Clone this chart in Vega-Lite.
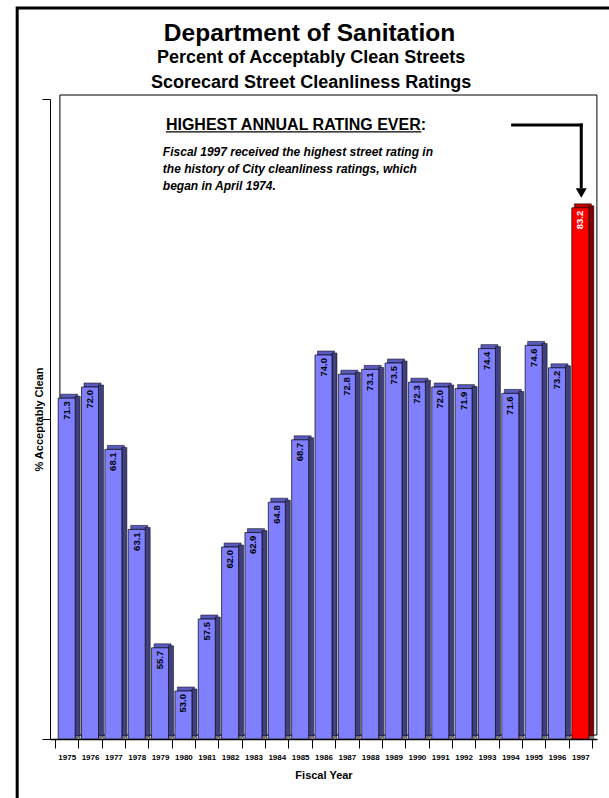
{
  "$schema": "https://vega.github.io/schema/vega-lite/v6.json",
  "width": 547,
  "height": 640,
  "autosize": {"type": "none"},
  "padding": {"left": 50, "top": 99, "right": 12, "bottom": 59},
  "background": "white",
  "config": {
    "view": {"stroke": null},
    "font": "Liberation Sans",
    "axis": {"domainColor": "#000", "tickColor": "#000", "grid": false, "labelColor": "#000", "titleColor": "#000"}
  },
  "data": {
    "values": [
      {"year": 1975, "value": 71.3},
      {"year": 1976, "value": 72.0},
      {"year": 1977, "value": 68.1},
      {"year": 1978, "value": 63.1},
      {"year": 1979, "value": 55.7},
      {"year": 1980, "value": 53.0},
      {"year": 1981, "value": 57.5},
      {"year": 1982, "value": 62.0},
      {"year": 1983, "value": 62.9},
      {"year": 1984, "value": 64.8},
      {"year": 1985, "value": 68.7},
      {"year": 1986, "value": 74.0},
      {"year": 1987, "value": 72.8},
      {"year": 1988, "value": 73.1},
      {"year": 1989, "value": 73.5},
      {"year": 1990, "value": 72.3},
      {"year": 1991, "value": 72.0},
      {"year": 1992, "value": 71.9},
      {"year": 1993, "value": 74.4},
      {"year": 1994, "value": 71.6},
      {"year": 1995, "value": 74.6},
      {"year": 1996, "value": 73.2},
      {"year": 1997, "value": 83.2}
    ]
  },
  "resolve": {"axis": {"x": "independent", "y": "independent"}},
  "layer": [
    {
      "data": {"values": [{}]},
      "mark": {"type": "rect", "fillOpacity": 0, "stroke": "#000", "strokeWidth": 3},
      "encoding": {
        "x": {"datum": 1972.88, "type": "quantitative", "scale": {"domain": [1974.5, 1997.5], "nice": false, "zero": false}, "axis": null},
        "x2": {"datum": 1998.3},
        "y": {"datum": 95.69, "type": "quantitative", "scale": {"domain": [50, 90], "nice": false, "zero": false}, "axis": null},
        "y2": {"datum": 45.0}
      }
    },
    {
      "data": {"values": [{}]},
      "mark": {"type": "rect", "fill": "white", "stroke": "#000", "strokeWidth": 1},
      "encoding": {
        "x": {"datum": 1974.71, "type": "quantitative", "axis": null},
        "x2": {"datum": 1997.71},
        "y": {"datum": 90.25, "type": "quantitative", "axis": null},
        "y2": {"datum": 50.25}
      }
    },
    {
      "mark": {"type": "bar", "width": 17, "xOffset": 2.5, "yOffset": -4, "y2Offset": 0, "stroke": "#000", "strokeWidth": 0.5},
      "encoding": {
        "x": {"field": "year", "type": "quantitative", "axis": null},
        "y": {"field": "value", "type": "quantitative", "axis": null},
        "y2": {"field": "value"},
        "fill": {"condition": {"test": "datum.year === 1997", "value": "#C00000"}, "value": "#5A5ABE"}
      }
    },
    {
      "mark": {"type": "bar", "width": 5, "xOffset": 11, "yOffset": -2, "y2Offset": -3, "stroke": "#000", "strokeWidth": 0.5},
      "encoding": {
        "x": {"field": "year", "type": "quantitative", "axis": null},
        "y": {"field": "value", "type": "quantitative", "axis": null},
        "y2": {"datum": 50},
        "fill": {"condition": {"test": "datum.year === 1997", "value": "#800000"}, "value": "#404080"}
      }
    },
    {
      "mark": {"type": "bar", "width": 5, "xOffset": 11, "yOffset": -3, "y2Offset": 0, "stroke": "#000", "strokeWidth": 0.3},
      "encoding": {
        "x": {"field": "year", "type": "quantitative", "axis": null},
        "y": {"datum": 50, "type": "quantitative", "axis": null},
        "y2": {"datum": 50},
        "fill": {"value": "#808080"}
      }
    },
    {
      "mark": {"type": "bar", "width": 17, "stroke": "#000", "strokeWidth": 0.7},
      "encoding": {
        "x": {
          "field": "year", "type": "quantitative",
          "axis": {
            "orient": "bottom", "values": [1974.5, 1975.5, 1976.5, 1977.5, 1978.5, 1979.5, 1980.5, 1981.5, 1982.5, 1983.5, 1984.5, 1985.5, 1986.5, 1987.5, 1988.5, 1989.5, 1990.5, 1991.5, 1992.5, 1993.5, 1994.5, 1995.5, 1996.5, 1997.5],
            "labels": false, "tickSize": 9, "tickWidth": 1, "domainWidth": 1.5,
            "title": "Fiscal Year", "titleFontSize": 11, "titleFontWeight": "bold", "titlePadding": 21
          }
        },
        "y": {
          "field": "value", "type": "quantitative",
          "axis": {
            "orient": "left", "values": [50, 70, 90], "labels": false, "tickSize": 8, "tickWidth": 1, "domainWidth": 1,
            "title": "% Acceptably Clean", "titleFontSize": 11, "titleFontWeight": "bold", "titlePadding": -3
          }
        },
        "y2": {"datum": 50},
        "fill": {"condition": {"test": "datum.year === 1997", "value": "#FF0000"}, "value": "#8080FF"}
      }
    },
    {
      "mark": {"type": "text", "angle": 270, "align": "right", "baseline": "middle", "yOffset": 3, "fontSize": 9.5, "fontWeight": "bold"},
      "encoding": {
        "x": {
          "field": "year", "type": "quantitative",
          "axis": {
            "orient": "bottom", "values": [1975, 1976, 1977, 1978, 1979, 1980, 1981, 1982, 1983, 1984, 1985, 1986, 1987, 1988, 1989, 1990, 1991, 1992, 1993, 1994, 1995, 1996, 1997],
            "format": "d", "ticks": false, "tickSize": 0, "domain": false, "labelPadding": 14,
            "labelFontSize": 8, "labelFontWeight": "bold", "title": null
          }
        },
        "y": {"field": "value", "type": "quantitative", "axis": null},
        "text": {"field": "value", "type": "quantitative", "format": ".1f"},
        "color": {"condition": {"test": "datum.year === 1997", "value": "#FFFFFF"}, "value": "#000000"}
      }
    },
    {
      "data": {"values": [{}]},
      "mark": {"type": "text", "text": "Department of Sanitation", "align": "center", "baseline": "alphabetic", "fontSize": 24.5, "fontWeight": "bold", "color": "#000"},
      "encoding": {
        "x": {"datum": 1985.4, "type": "quantitative", "axis": null},
        "y": {"datum": 93.625, "type": "quantitative", "axis": null}
      }
    },
    {
      "data": {"values": [{}]},
      "mark": {"type": "text", "text": ["Percent of Acceptably Clean Streets", "Scorecard Street Cleanliness Ratings"], "lineHeight": 25, "align": "center", "baseline": "alphabetic", "fontSize": 18, "fontWeight": "bold", "color": "#000"},
      "encoding": {
        "x": {"datum": 1985.47, "type": "quantitative", "axis": null},
        "y": {"datum": 92.23, "type": "quantitative", "axis": null}
      }
    },
    {
      "data": {"values": [{}]},
      "mark": {"type": "text", "text": "HIGHEST ANNUAL RATING EVER:", "align": "left", "baseline": "alphabetic", "fontSize": 16, "fontWeight": "bold", "color": "#000"},
      "encoding": {
        "x": {"datum": 1979.25, "type": "quantitative", "axis": null},
        "y": {"datum": 88.06, "type": "quantitative", "axis": null}
      }
    },
    {
      "data": {"values": [{}]},
      "mark": {"type": "rule", "color": "#000", "strokeWidth": 1.3},
      "encoding": {
        "x": {"datum": 1979.25, "type": "quantitative", "axis": null},
        "x2": {"datum": 1990.19},
        "y": {"datum": 87.94, "type": "quantitative", "axis": null}
      }
    },
    {
      "data": {"values": [{}]},
      "mark": {"type": "text", "text": ["Fiscal 1997 received the highest street rating in", "the history of City cleanliness ratings, which", "began in April 1974."], "lineHeight": 17, "align": "left", "baseline": "alphabetic", "fontSize": 12, "fontWeight": "bold", "fontStyle": "italic", "color": "#000"},
      "encoding": {
        "x": {"datum": 1979.12, "type": "quantitative", "axis": null},
        "y": {"datum": 86.44, "type": "quantitative", "axis": null}
      }
    },
    {
      "data": {"values": [{}]},
      "mark": {"type": "rule", "color": "#000", "strokeWidth": 3, "strokeCap": "square"},
      "encoding": {
        "x": {"datum": 1994.1, "type": "quantitative", "axis": null},
        "x2": {"datum": 1997.04},
        "y": {"datum": 88.375, "type": "quantitative", "axis": null}
      }
    },
    {
      "data": {"values": [{}]},
      "mark": {"type": "rule", "color": "#000", "strokeWidth": 3, "strokeCap": "square"},
      "encoding": {
        "x": {"datum": 1997.04, "type": "quantitative", "axis": null},
        "y": {"datum": 88.375, "type": "quantitative", "axis": null},
        "y2": {"datum": 84.5}
      }
    },
    {
      "data": {"values": [{}]},
      "mark": {"type": "point", "shape": "triangle-down", "filled": true, "size": 121, "color": "#000", "opacity": 1},
      "encoding": {
        "x": {"datum": 1997.04, "type": "quantitative", "axis": null},
        "y": {"datum": 84.12, "type": "quantitative", "axis": null}
      }
    }
  ]
}
